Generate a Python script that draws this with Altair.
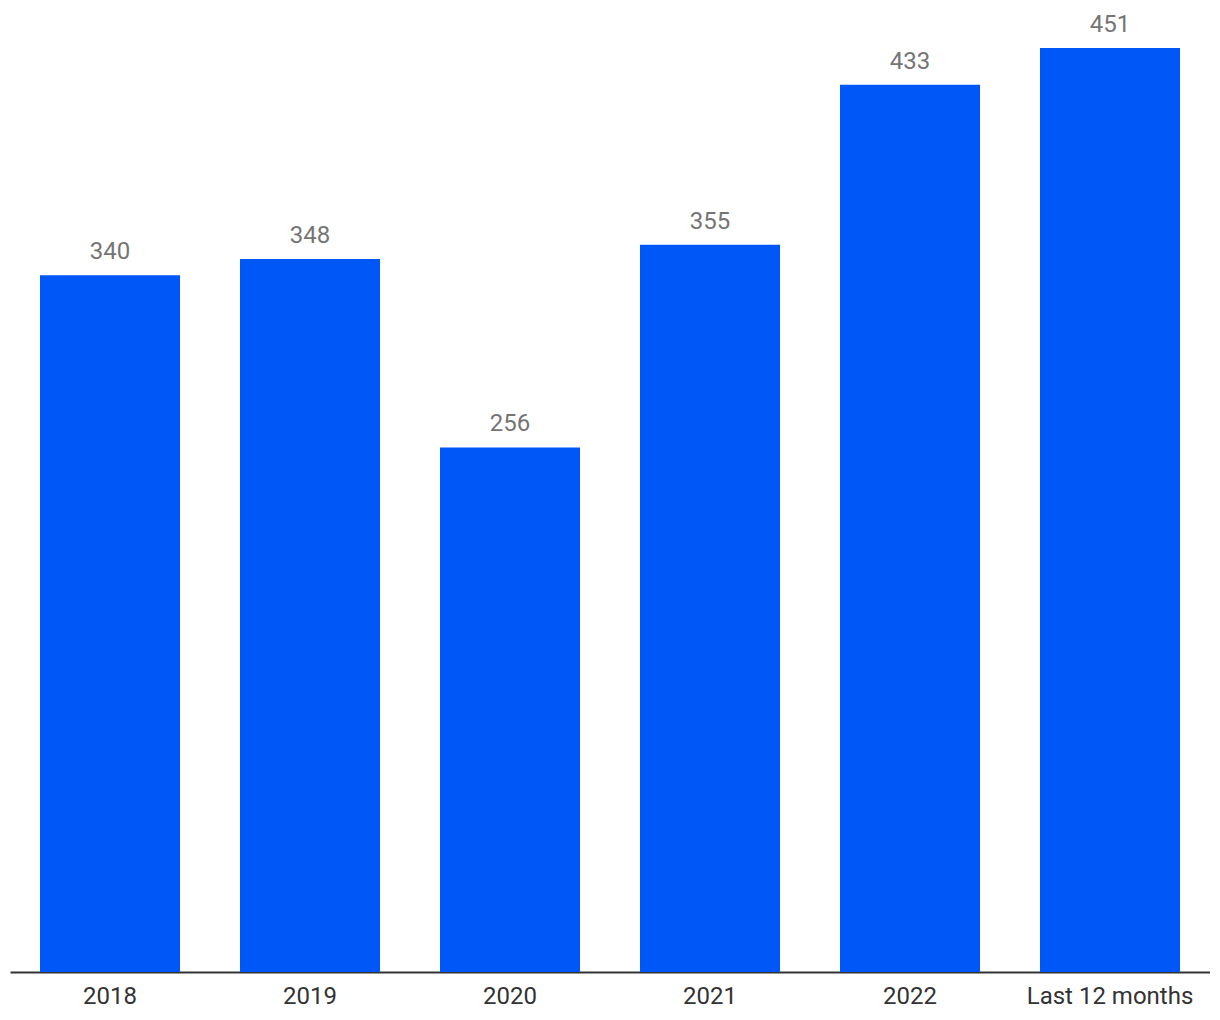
import altair as alt
import pandas as pd

categories = ["2018", "2019", "2020", "2021", "2022", "Last 12 months"]
values = [340, 348, 256, 355, 433, 451]

df = pd.DataFrame({"category": categories, "value": values})

x = alt.X("category:N", sort=categories, title=None,
          scale=alt.Scale(paddingInner=0.3, paddingOuter=0.15),
          axis=alt.Axis(labelAngle=0, labelFont="Roboto", labelFontSize=24,
                        labelColor="#333333", labelPadding=12, ticks=False,
                        domainColor="#333333", domainWidth=2))
y = alt.Y("value:Q", title=None, scale=alt.Scale(domain=[0, 470], nice=False),
          axis=None)

bars = alt.Chart(df).mark_bar(color="#0057F8").encode(x=x, y=y)
labels = alt.Chart(df).mark_text(font="Roboto", fontSize=24, color="#757575",
                                 baseline="alphabetic", dy=-16).encode(
    x=x, y=y, text="value:Q")

chart = (bars + labels).properties(
    width=1200, height=963,
    autosize=alt.AutoSizeParams(type="none"),
    padding={"left": 2, "top": 1, "right": 0, "bottom": 39},
).configure_view(stroke=None)

chart.save("out.html", embed_options={"renderer": "svg", "actions": False})
